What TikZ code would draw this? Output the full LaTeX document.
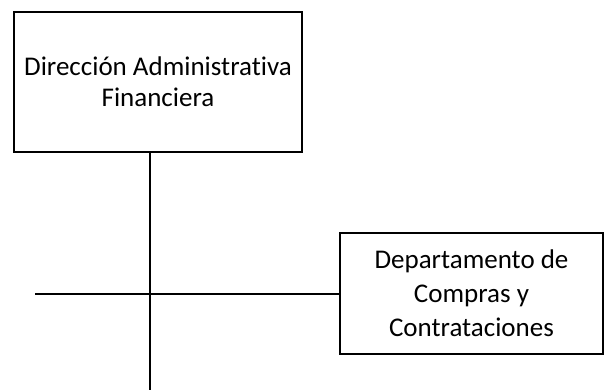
\documentclass[tikz,border=0pt]{standalone}
\usepackage{fontspec}
\setmainfont{Carlito}[Ligatures=CommonOff]
\usetikzlibrary{positioning}
\tikzset{unit/.style={draw, rectangle, line width=1.3pt, align=center, inner sep=0pt,
    font=\fontsize{27}{31}\selectfont}}

\begin{document}
\begin{tikzpicture}[x=1pt,y=1pt,line width=1.3pt]
    \useasboundingbox (0,0) rectangle (605,-390);
    \node [unit, minimum width=288, minimum height=140] (dir) at (158,-82) {Dirección Administrativa\\Financiera};
    \node [unit, minimum width=263, minimum height=121,
        font=\fontsize{27}{34}\selectfont] (dep) at (471.5,-293.5) {Departamento de\\Compras y\\Contrataciones};
    \coordinate (trunk) at (150,-390);
    \coordinate (branch) at (35,-294);
    \draw (dir.south -| trunk) -- (trunk);
    \draw (branch) -- (branch -| dep.west);
\end{tikzpicture}
\end{document}
